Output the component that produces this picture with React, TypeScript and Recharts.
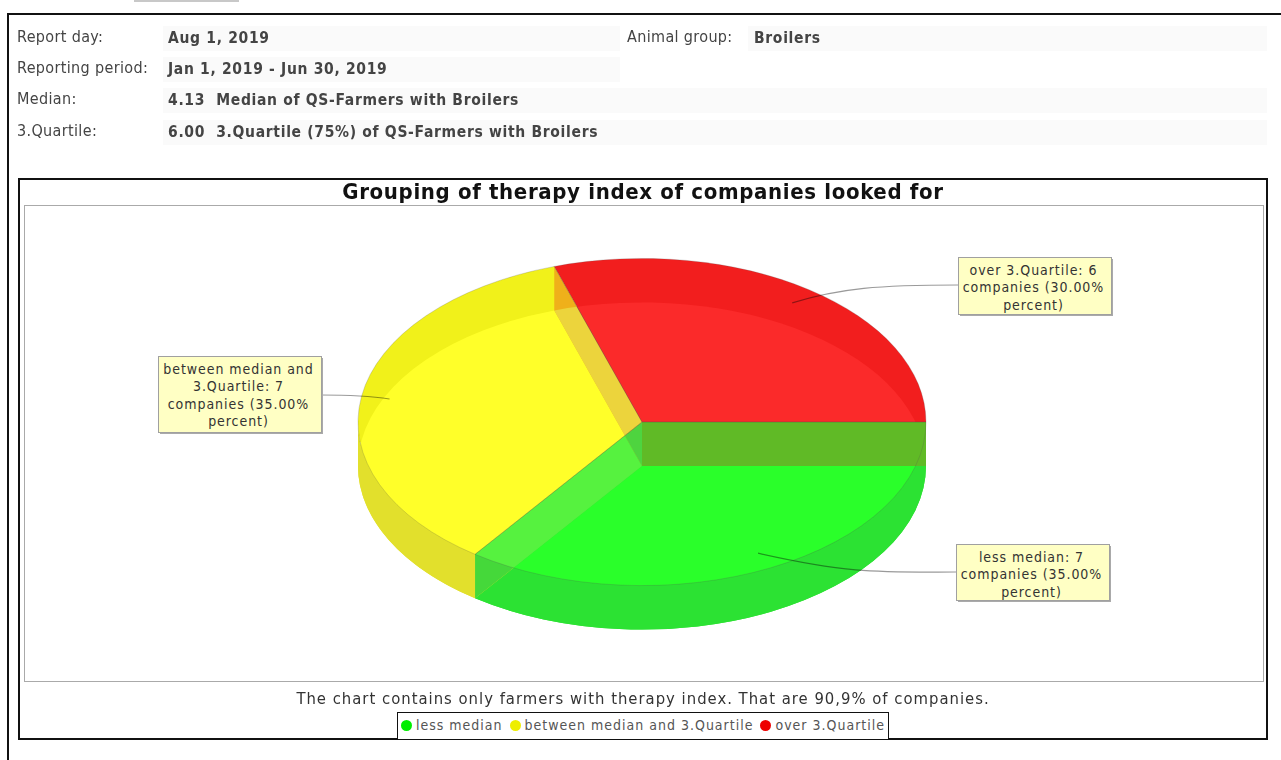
import { Legend, Pie, PieChart } from 'recharts';

const categories = ['less median', 'between median and 3.Quartile', 'over 3.Quartile'];
const companies = [7, 7, 6];
const legendColors = ['#00ee00', '#eeee00', '#ee0000'];
const calloutLines = [
  ['less median: 7', 'companies (35.00%', 'percent)'],
  ['between median and', '3.Quartile: 7', 'companies (35.00%', 'percent)'],
  ['over 3.Quartile: 6', 'companies (30.00%', 'percent)'],
];
const headerRows = [
  { label: 'Report day:', value: 'Aug 1, 2019', top: 26, barWidth: 457 },
  { label: 'Reporting period:', value: 'Jan 1, 2019 - Jun 30, 2019', top: 57, barWidth: 457 },
  { label: 'Median:', value: '4.13  Median of QS-Farmers with Broilers', top: 88, barWidth: 1104 },
  { label: '3.Quartile:', value: '6.00  3.Quartile (75%) of QS-Farmers with Broilers', top: 120, barWidth: 1104 },
];

const chartData = categories.map((name, i) => ({ name, value: companies[i], fill: legendColors[i] }));

// look of the fake 3D pie
const SQUASH = 0.576;
const DEPTH = 44;
const sideColors = ['#2ce233', '#e2e02c', '#f21e1e'];
const topOnlyColors = ['#2ce233', '#f1f11a', '#f21e1e'];
const edgeColors = ['#60ba26', '#45d83a', '#efb01a'];
// overlap of top face (row) and bottom face (column)
const overlapColors = [
  ['#2aff2a', '#56f23f', '#4ed43f'],
  ['#ffff29', '#ffff29', '#ecd43c'],
  ['#fb2a2a', '#fb2a2a', '#fb2a2a'],
];
const calloutBoxes = [
  { x: 956, y: 544, w: 153, h: 56, c1: [850, 574], c2: [880, 572] },
  { x: 158, y: 356, w: 163, h: 76, c1: [370, 396], c2: [345, 395] },
  { x: 958, y: 257, w: 153, h: 57, c1: [840, 288], c2: [880, 285] },
];

const FONT = '"DejaVu Sans", sans-serif';
const narrow = { fontFamily: FONT, fontStretch: 'condensed' };

function pt(p: any, angle: number, dy = 0, k = 1) {
  const rad = (angle * Math.PI) / 180;
  return {
    x: p.cx + k * p.outerRadius * Math.cos(rad),
    y: p.cy + dy - k * p.outerRadius * SQUASH * Math.sin(rad),
  };
}

function sectorPath(p: any, dy = 0) {
  const lo = Math.min(p.startAngle, p.endAngle);
  const hi = Math.max(p.startAngle, p.endAngle);
  const a = pt(p, lo, dy);
  const b = pt(p, hi, dy);
  const rx = p.outerRadius;
  const ry = rx * SQUASH;
  return `M${p.cx},${p.cy + dy}L${a.x},${a.y}A${rx},${ry} 0 ${hi - lo > 180 ? 1 : 0} 0 ${b.x},${b.y}Z`;
}

// outer rim, only the part that faces the viewer
function rimPath(p: any) {
  const lo = Math.max(Math.min(p.startAngle, p.endAngle), 180);
  const hi = Math.max(p.startAngle, p.endAngle);
  if (lo >= hi) return '';
  const rx = p.outerRadius;
  const ry = rx * SQUASH;
  const a = pt(p, lo);
  const b = pt(p, hi);
  const c = pt(p, hi, DEPTH);
  const d = pt(p, lo, DEPTH);
  const large = hi - lo > 180 ? 1 : 0;
  return `M${a.x},${a.y}A${rx},${ry} 0 ${large} 0 ${b.x},${b.y}L${c.x},${c.y}A${rx},${ry} 0 ${large} 1 ${d.x},${d.y}Z`;
}

// the cut wall at the clockwise start of a slice
function edgePath(p: any) {
  const rim = pt(p, p.startAngle);
  return `M${p.cx},${p.cy}L${rim.x},${rim.y}L${rim.x},${rim.y + DEPTH}L${p.cx},${p.cy + DEPTH}Z`;
}

const indexOf = (p: any) => categories.indexOf(p.name);

function baseShape(p: any) {
  const i = indexOf(p);
  return (
    <g>
      <clipPath id={`bottom-${i}`}>
        <path d={sectorPath(p, DEPTH)} />
      </clipPath>
      <path d={sectorPath(p, DEPTH)} fill={i === 2 ? '#35c92f' : sideColors[i]} />
      <path d={rimPath(p)} fill={sideColors[i]} />
    </g>
  );
}

const topOnlyShape = (p: any) => <path d={sectorPath(p)} fill={topOnlyColors[indexOf(p)]} />;

const edgeShape = (only: number[]) => (p: any) =>
  only.includes(indexOf(p)) ? <path d={edgePath(p)} fill={edgeColors[indexOf(p)]} /> : <g />;

const overlapShape = (bottom: number) => (p: any) => (
  <path d={sectorPath(p)} fill={overlapColors[indexOf(p)][bottom]} clipPath={`url(#bottom-${bottom})`} />
);

const outlineShape = (p: any) => (
  <path d={sectorPath(p)} fill="none" stroke="rgba(80,80,80,0.22)" strokeWidth={1} />
);

function renderCallout(p: any) {
  const i = indexOf(p);
  const box = calloutBoxes[i];
  const lines = calloutLines[i];
  const from = pt(p, p.midAngle, 0, 0.9);
  const toX = box.x > from.x ? box.x : box.x + box.w;
  const toY = i === 1 ? box.y + 39 : box.y + 28;
  return (
    <g>
      <path
        d={`M${from.x},${from.y}C${box.c1[0]},${box.c1[1]} ${box.c2[0]},${box.c2[1]} ${toX},${toY}`}
        fill="none"
        stroke="#9a9a9a"
        strokeWidth={1.2}
        style={{ mixBlendMode: 'multiply' }}
      />
      <rect x={box.x + 2} y={box.y + 2} width={box.w} height={box.h} fill="#aaaaaa" />
      <rect x={box.x + 0.5} y={box.y + 0.5} width={box.w} height={box.h} fill="#ffffc4" stroke="#a0a0a0" />
      {lines.map((line, n) => (
        <text
          key={line}
          x={box.x + box.w / 2 - 1}
          y={box.y + 18 + n * 17.4}
          textAnchor="middle"
          fontSize={14}
          letterSpacing={0.95}
          fill="#333"
          style={narrow}
        >
          {line}
        </text>
      ))}
    </g>
  );
}

function renderLegend() {
  return (
    <div style={{ ...narrow, textAlign: 'center', fontSize: 14, letterSpacing: 1, lineHeight: '24px', color: '#555', whiteSpace: 'nowrap' }}>
      {categories.map((name, i) => (
        <span key={name} style={{ marginRight: i < 2 ? 7 : 0 }}>
          <span
            style={{
              display: 'inline-block',
              width: 11,
              height: 11,
              borderRadius: '50%',
              background: legendColors[i],
              marginRight: 4,
              verticalAlign: -1,
            }}
          />
          {name}
        </span>
      ))}
    </div>
  );
}

const pieProps = {
  data: chartData,
  dataKey: 'value',
  nameKey: 'name',
  cx: 642,
  cy: 422,
  outerRadius: 284,
  startAngle: 360,
  endAngle: 0,
  stroke: 'none',
  isAnimationActive: false,
  labelLine: false,
};

const abs = (left: number, top: number, width: number, height: number, extra: any = {}) => ({
  position: 'absolute' as const,
  left,
  top,
  width,
  height,
  boxSizing: 'border-box' as const,
  ...extra,
});

const labelStyle = { ...narrow, fontSize: 16, letterSpacing: 0.35, color: '#444', whiteSpace: 'nowrap', lineHeight: '20px' };
const valueStyle = { ...narrow, fontSize: 15.5, letterSpacing: 0.68, fontWeight: 700, color: '#444', whiteSpace: 'pre', lineHeight: '20px' };

export default function App() {
  return (
    <div style={abs(0, 0, 1281, 760, { background: '#fff', overflow: 'hidden', fontFamily: FONT, filter: 'blur(0.4px)' })}>
      <div style={abs(134, 0, 105, 2, { background: '#c8c8c8' })} />
      <div style={abs(7, 13, 1274, 2, { background: '#111' })} />
      <div style={abs(7, 13, 2, 747, { background: '#111' })} />

      {headerRows.map(row => (
        <div key={row.label}>
          <div style={abs(163, row.top, row.barWidth, 25, { background: '#fafafa' })} />
          <div style={abs(17, row.top + 1, 145, 20, labelStyle)}>{row.label}</div>
          <div style={abs(168, row.top + 2, 700, 20, valueStyle)}>{row.value}</div>
        </div>
      ))}
      <div style={abs(748, 26, 519, 25, { background: '#fafafa' })} />
      <div style={abs(627, 27, 120, 20, labelStyle)}>Animal group:</div>
      <div style={abs(754, 28, 120, 20, valueStyle)}>Broilers</div>

      <div style={abs(18, 178, 1250, 562, { border: '2px solid #111' })} />
      <div style={abs(24, 205, 1240, 477, { border: '1px solid #aaa' })} />
      <div style={abs(18, 178, 1250, 27, { ...narrow, textAlign: 'center', fontSize: 22, letterSpacing: 0.65, fontWeight: 700, color: '#111', lineHeight: '28px' })}>
        Grouping of therapy index of companies looked for
      </div>
      <div style={abs(18, 688, 1250, 22, { ...narrow, textAlign: 'center', fontSize: 16.5, letterSpacing: 1, color: '#333', lineHeight: '22px' })}>
        The chart contains only farmers with therapy index. That are 90,9% of companies.
      </div>

      <div style={abs(0, 0, 1281, 760)}>
        <PieChart width={1281} height={760} margin={{ top: 0, right: 0, bottom: 0, left: 0 }}>
          <Pie {...pieProps} shape={baseShape} />
          <Pie {...pieProps} legendType="none" shape={topOnlyShape} />
          <Pie {...pieProps} legendType="none" shape={edgeShape([1, 2])} />
          <Pie {...pieProps} legendType="none" shape={overlapShape(0)} />
          <Pie {...pieProps} legendType="none" shape={overlapShape(1)} />
          <Pie {...pieProps} legendType="none" shape={overlapShape(2)} />
          <Pie {...pieProps} legendType="none" shape={edgeShape([0])} />
          <Pie {...pieProps} legendType="none" shape={outlineShape} label={renderCallout} />
          <Legend
            content={renderLegend}
            wrapperStyle={{
              left: 397,
              top: 712,
              bottom: 'auto',
              width: 492,
              height: 28,
              border: '1.5px solid #111',
              boxSizing: 'border-box',
              background: '#fff',
            }}
          />
        </PieChart>
      </div>
    </div>
  );
}
